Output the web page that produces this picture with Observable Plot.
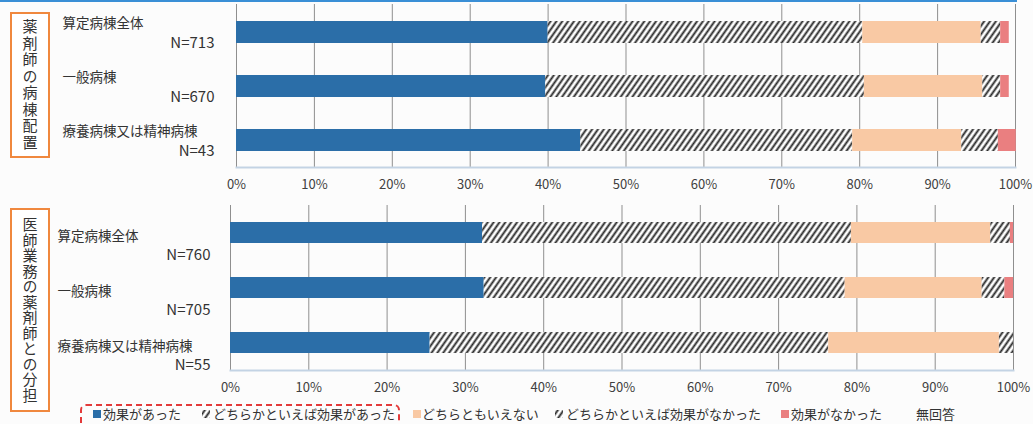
<!DOCTYPE html>
<html>
<head>
<meta charset="utf-8">
<script src="https://cdn.jsdelivr.net/npm/d3@7"></script>
<script src="https://cdn.jsdelivr.net/npm/@observablehq/plot@0.6"></script>
<style>
  html, body { margin: 0; padding: 0; background: #fff; }
  #root { position: relative; width: 1033px; height: 424px; overflow: hidden; background: #fcfcfc;
          font-family: "Noto Sans CJK JP", "Noto Sans", sans-serif; color: #333; }
  .panel { position: absolute; left: 0; }
  .vbox { position: absolute; left: 10px; width: 36px; border: 2px solid #f0883e; display: flex;
          align-items: center; justify-content: center; background: #fff; }
  .vbox span { writing-mode: vertical-rl; text-orientation: upright; font-size: 15px; color: #333; }
  .topline { position: absolute; left: 0; top: 0; width: 1017px; height: 2px; background: #3a8fd6; }
  .lg { position: absolute; top: 406px; font-size: 13px; color: #333; white-space: nowrap; line-height: 16px; }
  .sw { position: absolute; top: 410px; width: 8px; height: 8px; }
  .dash { position: absolute; left: 80px; top: 404px; width: 316px; height: 30px; border: 2px dashed #e33a3a; border-radius: 6px; }
</style>
</head>
<body>
<svg width="0" height="0" style="position:absolute">
  <defs>
    <pattern id="hatch" patternUnits="userSpaceOnUse" width="4.8" height="4.8" patternTransform="rotate(35)">
      <rect width="4.8" height="4.8" fill="#fff"></rect>
      <line x1="2.4" y1="0" x2="2.4" y2="4.8" stroke="#262626" stroke-width="1.9"></line>
    </pattern>
  </defs>
</svg>
<div id="root"></div>
<script>
// ---- data ----
const categories = ["算定病棟全体", "一般病棟", "療養病棟又は精神病棟"];
const responses = ["効果があった", "どちらかといえば効果があった", "どちらともいえない", "どちらかといえば効果がなかった", "効果がなかった", "無回答"];
const colors = ["#2b6ea8", "url(#hatch)", "#f9c9a4", "url(#hatch)", "#ea7f80", "transparent"];

// Panel 1: 薬剤師の病棟配置 (% per response, in the order of `responses`)
const pharmTitle = "薬剤師の病棟配置";
const pharmN = [713, 670, 43];
const pharmAll = [40.0, 40.4, 15.2, 2.5, 1.1, 0.8];
const pharmGeneral = [39.7, 40.9, 15.2, 2.3, 1.1, 0.8];
const pharmLongterm = [44.2, 34.9, 14.0, 4.7, 2.3, 0.0];

// Panel 2: 医師業務の薬剤師との分担
const shareTitle = "医師業務の薬剤師との分担";
const shareN = [760, 705, 55];
const shareAll = [32.2, 47.1, 17.8, 2.5, 0.4, 0.0];
const shareGeneral = [32.4, 46.1, 17.5, 2.9, 1.1, 0.0];
const shareLongterm = [25.5, 50.9, 21.8, 1.8, 0.0, 0.0];

const xTicks = [0, 10, 20, 30, 40, 50, 60, 70, 80, 90, 100];
const xTickLabels = ["0%", "10%", "20%", "30%", "40%", "50%", "60%", "70%", "80%", "90%", "100%"];

// ---- drawing ----
const FONT = "\"Noto Sans CJK JP\", \"Noto Sans\", sans-serif";
const root = document.getElementById("root");

function toTable(rows) {
  return categories.flatMap((c, i) => responses.map((r, j) => ({category: c, response: r, value: rows[i][j]})));
}

function panel({rows, ns, top, height, marginTop, marginBottom, marginLeft, marginRight, pi, po, nameDx, nameDy, nDx, nDy}) {
  const chart = Plot.plot({
    width: 1033, height, marginTop, marginBottom, marginLeft, marginRight,
    style: {fontFamily: FONT, fontSize: "13px", background: "transparent", color: "#404040", overflow: "visible"},
    x: {domain: [0, 100], ticks: xTicks, tickFormat: d => xTickLabels[xTicks.indexOf(d)], label: null, tickSize: 0, tickPadding: 12},
    y: {domain: categories, axis: null, paddingInner: pi, paddingOuter: po},
    color: {domain: responses, range: colors},
    marks: [
      Plot.gridX(xTicks, {stroke: "#8f8f8f", strokeOpacity: 1, strokeWidth: 1}),
      Plot.barX(toTable(rows), {x: "value", y: "category", fill: "response"}),
      Plot.frame({anchor: "bottom", stroke: "#c3d3e4", strokeWidth: 2}),
      Plot.text(categories, {y: d => d, text: d => d, frameAnchor: "left", textAnchor: "start", dx: nameDx, dy: nameDy, fontSize: 13.5, fill: "#333"}),
      Plot.text(categories, {y: d => d, text: (d, i) => "N=" + ns[i], frameAnchor: "left", textAnchor: "end", dx: nDx, dy: nDy, fontSize: 15, fill: "#333"})
    ]
  });
  chart.classList.add("panel");
  chart.style.top = top + "px";
  root.appendChild(chart);
}

panel({rows: [pharmAll, pharmGeneral, pharmLongterm], ns: pharmN, top: 0, height: 195,
       marginTop: 4, marginBottom: 28, marginLeft: 236, marginRight: 18, pi: 0.6, po: 0.3,
       nameDx: -174, nameDy: -9, nDx: -22, nDy: 11});
panel({rows: [shareAll, shareGeneral, shareLongterm], ns: shareN, top: 195, height: 200,
       marginTop: 10, marginBottom: 25, marginLeft: 230, marginRight: 20, pi: 0.62, po: 0.29,
       nameDx: -173, nameDy: 4, nDx: -20, nDy: 22});

// decorations
const tl = document.createElement("div"); tl.className = "topline"; root.appendChild(tl);

function vbox(text, top, height, ls) {
  const d = document.createElement("div");
  d.className = "vbox";
  d.style.top = top + "px"; d.style.height = height + "px";
  const s = document.createElement("span");
  s.textContent = text; s.style.letterSpacing = ls + "px";
  d.appendChild(s); root.appendChild(d);
}
vbox(pharmTitle, 12, 142, 1.5);
vbox(shareTitle, 208, 200, 0.5);

// legend
const dash = document.createElement("div"); dash.className = "dash"; root.appendChild(dash);
const lgIcon = [93, 202, 413, 555, 781, null];
const lgText = [103, 213, 422, 566, 791, 916];
responses.forEach((r, i) => {
  if (lgIcon[i] !== null) {
    const sv = d3.create("svg").attr("class", "sw").attr("width", 9).attr("height", 9)
      .style("left", lgIcon[i] + "px");
    sv.append("rect").attr("width", 9).attr("height", 9).attr("fill", colors[i]);
    root.appendChild(sv.node());
  }
  const t = document.createElement("div");
  t.className = "lg"; t.style.left = lgText[i] + "px"; t.textContent = r;
  root.appendChild(t);
});
</script>
</body>
</html>
